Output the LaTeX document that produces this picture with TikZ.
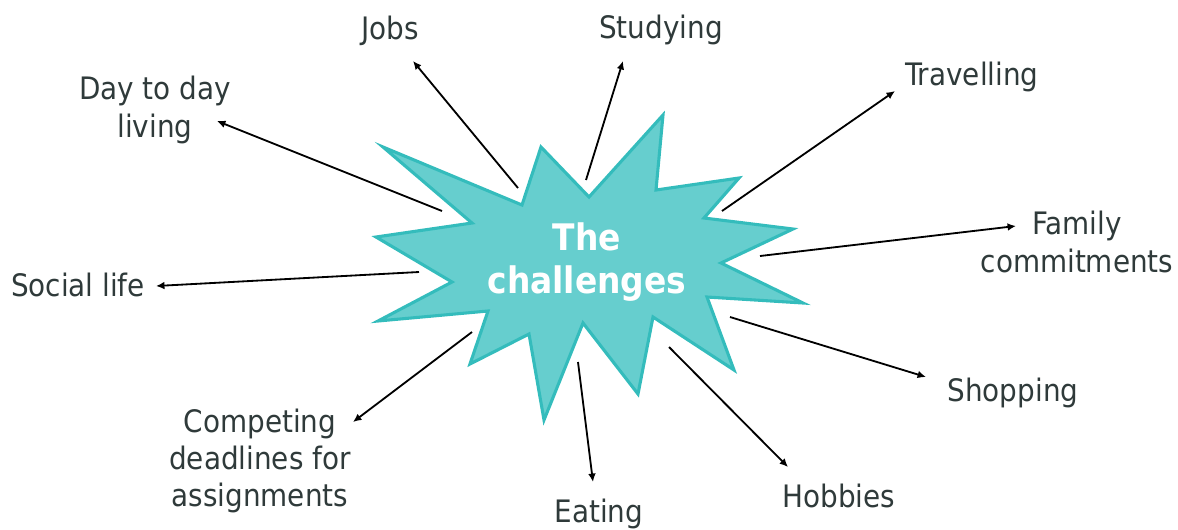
\documentclass[tikz,border=0pt]{standalone}
\usepackage{fontspec}
\setmainfont{DejaVu Sans Condensed}
\usetikzlibrary{arrows.meta}
\definecolor{burstfill}{RGB}{102,206,206}
\definecolor{burstline}{RGB}{52,188,188}
\definecolor{textgrey}{RGB}{47,58,58}

\begin{document}
\begin{tikzpicture}[x=0.025cm,y=-0.025cm,
		topic/.style={text=textgrey, font=\fontsize{22}{26.5}\selectfont, align=center, inner sep=0pt},
		pointer/.style={line width=1.3pt, -{Latex[length=6pt,width=5.5pt]}}]
		\useasboundingbox (0,0) rectangle (1178,529);

		\draw[burstline, fill=burstfill, line width=2.2pt]
			(383,147) -- (522,205) -- (541,147) -- (589,197) -- (663,115) -- (656,190)
			-- (739,178) -- (704,218) -- (793,229) -- (721,263) -- (803,303) -- (707,297)
			-- (734,370) -- (653,317) -- (638,394) -- (583,323) -- (544,420) -- (529,334)
			-- (470,364) -- (488,311) -- (378,321) -- (452,282) -- (376,237) -- (472,223) -- cycle;
		\node[text=white, font=\fontsize{26}{31}\selectfont\bfseries, align=center] (ch) at (587,262) {The\\challenges};

		\node[topic, anchor=base] (jobs) at (390,39) {Jobs};
		\node[topic, anchor=base] (study) at (661,38) {Studying};
		\node[topic, anchor=base] (travel) at (972,85) {Travelling};
		\node[topic] (family) at (1077,242) {Family\\commitments};
		\node[topic, anchor=base] (shop) at (1013,401) {Shopping};
		\node[topic, anchor=base] (hobby) at (839,507) {Hobbies};
		\node[topic, anchor=base] (eat) at (599,522) {Eating};
		\node[topic] (compete) at (260,461) {Competing\\deadlines for\\assignments};
		\node[topic, anchor=base] (social) at (78,296) {Social life};
		\node[topic] (daily) at (155,110) {Day to day\\living};

		\coordinate (s-jobs) at (518,188);    \coordinate (t-jobs) at (413,61);
		\coordinate (s-study) at (586,180);   \coordinate (t-study) at (623,61);
		\coordinate (s-travel) at (722,211);  \coordinate (t-travel) at (895,91);
		\coordinate (s-family) at (760,256);  \coordinate (t-family) at (1016,226);
		\coordinate (s-shop) at (730,317);    \coordinate (t-shop) at (926,377);
		\coordinate (s-hobby) at (669,347);   \coordinate (t-hobby) at (788,467);
		\coordinate (s-eat) at (578,362);     \coordinate (t-eat) at (593,482);
		\coordinate (s-compete) at (472,332); \coordinate (t-compete) at (353,422);
		\coordinate (s-social) at (419,272);  \coordinate (t-social) at (156,286);
		\coordinate (s-daily) at (442,211);   \coordinate (t-daily) at (217,121);

		\path[pointer]
			(s-jobs) edge (t-jobs)
			(s-study) edge (t-study)
			(s-travel) edge (t-travel)
			(s-family) edge (t-family)
			(s-shop) edge (t-shop)
			(s-hobby) edge (t-hobby)
			(s-eat) edge (t-eat)
			(s-compete) edge (t-compete)
			(s-social) edge (t-social)
			(s-daily) edge (t-daily)
		;
	\end{tikzpicture}
\end{document}
